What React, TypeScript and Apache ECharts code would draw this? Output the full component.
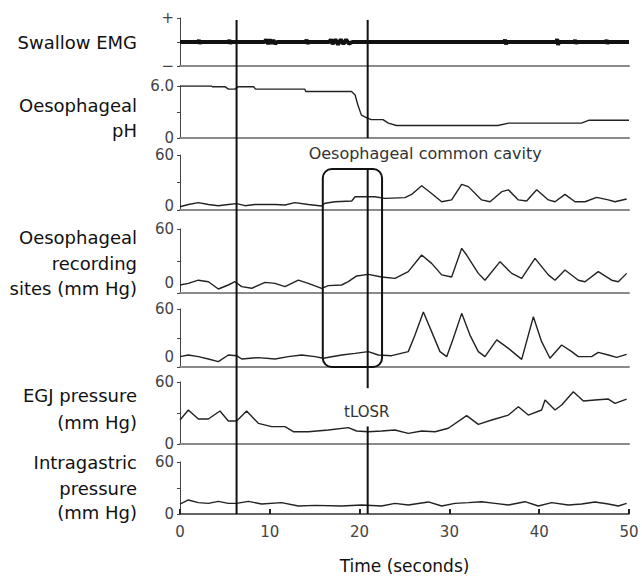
import React, { useEffect, useRef } from "react";
import * as echarts from "echarts";

// ---- data (time in seconds) ----
const swallowEMG: [number, number][] = [
  [0, 0], [2.0, 0], [2.1, 0.08], [2.2, -0.07], [2.3, 0], [5.4, 0], [5.5, 0.08], [5.6, -0.07], [5.7, 0],
  [9.4, 0], [9.6, 0.1], [9.8, -0.08], [10.0, 0.1], [10.2, -0.07], [10.4, 0.08], [10.6, -0.08], [10.8, 0],
  [14.0, 0], [14.1, 0.1], [14.2, -0.08], [14.3, 0], [16.6, 0], [16.8, 0.1], [17.0, -0.08], [17.3, 0.1],
  [17.6, -0.1], [17.9, 0.1], [18.2, -0.08], [18.5, 0.1], [18.8, -0.07], [19.2, 0], [36.1, 0], [36.2, 0.1],
  [36.3, -0.1], [36.4, 0], [41.9, 0], [42.0, 0.12], [42.1, -0.12], [42.2, 0], [43.9, 0], [44.0, 0.08],
  [44.1, -0.07], [44.2, 0], [47.4, 0], [47.5, 0.08], [47.6, -0.07], [47.7, 0], [50, 0],
];

const oesophagealPH: [number, number][] = [
  [0, 6.0], [3.5, 6.0], [3.6, 5.92], [5.0, 5.92], [5.4, 5.64], [6.1, 5.64], [6.5, 5.92], [8.2, 5.92],
  [8.4, 5.64], [13.9, 5.64], [14.0, 5.36], [19.1, 5.36], [19.5, 4.96], [19.8, 3.84], [20.2, 2.64],
  [20.8, 2.32], [21.3, 2.12], [22.6, 2.12], [23.2, 1.72], [24.1, 1.44], [35.4, 1.44], [36.6, 1.72],
  [44.7, 1.72], [45.5, 2.04], [50, 2.04],
];

const siteUpper: [number, number][] = [
  [0, 3.6], [0.93, 6], [2.04, 8], [3.16, 6], [4.27, 4.7], [5.38, 6], [6.31, 7], [7.24, 4.7], [8.35, 6],
  [10.58, 6], [11.69, 5.5], [12.8, 8], [14.29, 6], [15.77, 4.4], [16.15, 7.3], [17.26, 9], [19.12, 9.8],
  [19.5, 14.5], [21.7, 14.5], [22.8, 12.7], [25.05, 13.5], [25.79, 17], [26.91, 26.5], [28.02, 18],
  [29.14, 9], [30.25, 11], [31.37, 28], [32.11, 25.5], [33.59, 11], [34.52, 9], [35.83, 20], [36.57, 22],
  [37.68, 11], [38.6, 9.8], [39.72, 22], [41.02, 11], [41.76, 9], [42.87, 17], [43.99, 9], [45.1, 9],
  [46.4, 13.8], [47.7, 11], [48.44, 9], [49.74, 12],
];

const siteMiddle: [number, number][] = [
  [0, 7.5], [0.93, 9], [2.04, 12], [3.16, 10.6], [4.27, 3.75], [5.38, 7.5], [6.12, 10.6], [6.87, 6],
  [7.98, 4.4], [9.47, 10], [10.58, 9], [11.69, 6], [13.18, 12], [14.29, 9], [15.77, 4.4], [16.52, 6.9],
  [18.0, 7.5], [18.74, 10.6], [19.67, 16], [20.97, 17.5], [22.45, 15], [23.94, 13.75], [25.42, 20],
  [26.91, 35.6], [28.02, 27.8], [29.14, 17], [30.25, 15], [31.37, 41.9], [31.92, 35.6], [33.22, 18.4],
  [33.96, 12], [35.64, 29.4], [36.94, 18.4], [38.05, 13.75], [39.53, 32.5], [41.02, 17], [41.76, 12],
  [42.87, 21.6], [44.36, 12], [45.1, 10.6], [46.58, 20], [48.07, 12], [48.81, 10.6], [49.74, 18.4],
];

const siteLower: [number, number][] = [
  [0, 10.7], [0.93, 12.4], [2.04, 10.7], [3.16, 8.3], [4.27, 5.5], [5.38, 12.4], [6.31, 11.7], [6.87, 8.3],
  [8.72, 9.7], [10.58, 8.3], [12.06, 10.7], [13.55, 12.4], [15.03, 10.7], [15.96, 9], [18.0, 12.4],
  [19.49, 14.1], [20.97, 15.9], [22.08, 12.4], [23.57, 11.7], [25.42, 15.9], [26.17, 33], [27.1, 57],
  [28.02, 36.6], [28.95, 15.9], [29.7, 10.7], [30.44, 29.7], [31.37, 55.5], [32.29, 33], [33.22, 15.9],
  [33.96, 10.7], [35.27, 28], [36.57, 19.3], [38.05, 7.9], [39.35, 52], [40.27, 26.2], [41.2, 9],
  [42.5, 22.8], [43.62, 15.9], [44.36, 10.7], [45.84, 10.7], [46.58, 15.2], [47.7, 12.4], [48.62, 10],
  [49.74, 13.1],
];

const egjPressure: [number, number][] = [
  [0, 23.2], [0.93, 32.9], [2.04, 24.2], [3.16, 24.2], [4.45, 31.9], [5.38, 22.3], [6.31, 22.3],
  [7.42, 31.9], [8.72, 20], [10.21, 16.8], [11.69, 16.8], [12.62, 11.9], [14.29, 11.9], [16.52, 13.5],
  [18.74, 15.8], [19.67, 12.6], [20.97, 11.9], [22.45, 12.6], [23.94, 13.5], [25.42, 10.3], [26.91, 12.6],
  [28.4, 11.9], [29.88, 15.2], [31.92, 27.4], [33.22, 19], [34.71, 23.2], [36.57, 28], [37.68, 36.1],
  [38.79, 28], [40.27, 32.9], [40.65, 42.6], [41.76, 32.9], [42.5, 37.7], [43.8, 50.6], [44.92, 41.6],
  [46.21, 42.6], [47.7, 43.5], [48.44, 39.4], [49.74, 43.5],
];

const intragastric: [number, number][] = [
  [0, 11.5], [0.93, 16.2], [2.04, 13.1], [3.16, 12.3], [4.27, 14.6], [5.38, 12.3], [6.31, 12.3],
  [7.61, 14.6], [9.09, 11.5], [11.32, 13.1], [13.18, 9.2], [15.03, 10], [18.0, 9.2], [20.23, 10.4],
  [22.45, 9.2], [23.94, 12.3], [25.42, 10.4], [27.66, 13.9], [29.14, 9.2], [30.62, 12.3], [32.11, 13.1],
  [33.59, 14.2], [35.08, 12.3], [36.57, 10.4], [38.42, 14.2], [39.9, 9.2], [41.39, 13.1], [43.24, 10.4],
  [44.73, 11.5], [46.21, 13.9], [47.7, 11.5], [48.81, 9.2], [49.74, 12.3],
];

const timeTicks = [0, 10, 20, 30, 40, 50];
const eventTimes = [6.3, 20.9];
const cavityWindow = { start: 15.9, end: 22.5, topPressure: 44.7, bottomPressure: 0 };

const panelLabels: { lines: string[]; ys: number[] }[] = [
  { lines: ["Swallow EMG"], ys: [42] },
  { lines: ["Oesophageal", "pH"], ys: [105, 130] },
  { lines: ["Oesophageal", "recording", "sites (mm Hg)"], ys: [237, 263, 288] },
  { lines: ["EGJ pressure", "(mm Hg)"], ys: [395, 422] },
  { lines: ["Intragastric", "pressure", "(mm Hg)"], ys: [462, 488, 512] },
];

const FONT = "DejaVu Sans";

export default function App() {
  const ref = useRef<HTMLDivElement>(null);
  useEffect(() => {
    document.body.style.margin = "0";
    if (!ref.current) return;
    const chart = echarts.init(ref.current, undefined, { renderer: "svg" });

    // panel layout: [top, bottom] in px
    const panels: [number, number][] = [
      [18, 66], [86, 138], [155, 210], [229, 293], [309, 367], [382, 444], [462, 514],
    ];
    // lift of the "0" label above the baseline per panel (px)
    const zeroLift = [0, 0, 4, 10, 10, 0, 0];
    const grids = panels.map(([t, b]) => ({ left: 180, right: 13, top: t, height: b - t }));

    const xAxes = panels.map((_, i) => {
      const last = i === panels.length - 1;
      return {
        type: "value",
        gridIndex: i,
        min: 0,
        max: 50,
        interval: 10,
        axisLine: { show: true, onZero: false, lineStyle: { color: last ? "#333" : "#8a8a8a", width: last ? 1.5 : 2 } },
        axisTick: { show: last, inside: true, length: 5, lineStyle: { color: "#222", width: 2 } },
        axisLabel: {
          show: last,
          color: "#444",
          fontFamily: FONT,
          fontSize: 15,
          margin: 10,
          formatter: (v: number) => (timeTicks.includes(v) ? String(v) : ""),
        },
        splitLine: { show: false },
        name: last ? "Time (seconds)" : "",
        nameLocation: "middle",
        nameGap: 43,
        nameTextStyle: { color: "#111", fontFamily: FONT, fontSize: 17 },
      };
    });

    const baseY = {
      type: "value",
      axisLine: { show: true, lineStyle: { color: "#444", width: 1 } },
      axisTick: { show: true, length: 3, lineStyle: { color: "#444" } },
      splitLine: { show: false },
    };
    const yLabel = (i: number, fmt: (v: number) => string) => ({
      color: "#444",
      fontFamily: FONT,
      fontSize: 15,
      margin: 6,
      formatter: fmt,
      rich: {
        lo: { color: "#444", fontFamily: FONT, fontSize: 15, padding: [0, 0, zeroLift[i] * 2, 0] },
      },
    });
    const pressureFmt = (v: number) => (v === 30 ? "" : v === 0 ? "{lo|0}" : String(v));
    const yAxes = [
      { ...baseY, gridIndex: 0, min: -1, max: 1, interval: 1, axisLabel: yLabel(0, (v) => (v === 1 ? "+" : v === -1 ? "\u2212" : "")) },
      { ...baseY, gridIndex: 1, min: 0, max: 6, interval: 3, axisLabel: yLabel(1, (v) => (v === 6 ? "6.0" : v === 0 ? "0" : "")) },
      { ...baseY, gridIndex: 2, min: 0, max: 60, interval: 30, axisLabel: yLabel(2, pressureFmt) },
      { ...baseY, gridIndex: 3, min: 0, max: 60, interval: 30, axisLabel: yLabel(3, pressureFmt) },
      { ...baseY, gridIndex: 4, min: 0, max: 60, interval: 30, axisLabel: yLabel(4, pressureFmt) },
      { ...baseY, gridIndex: 5, min: 0, max: 60, interval: 30, axisLabel: yLabel(5, pressureFmt) },
      { ...baseY, gridIndex: 6, min: 0, max: 60, interval: 30, axisLabel: yLabel(6, pressureFmt) },
    ];

    const traces = [swallowEMG, oesophagealPH, siteUpper, siteMiddle, siteLower, egjPressure, intragastric];
    const series = traces.map((d, i) => ({
      type: "line",
      xAxisIndex: i,
      yAxisIndex: i,
      data: d,
      showSymbol: false,
      symbol: "none",
      lineStyle: { color: i === 0 ? "#111" : "#222", width: i === 0 ? 4 : 1.4 },
      silent: true,
      z: 3,
    }));

    chart.setOption({
      animation: false,
      backgroundColor: "#fff",
      grid: grids,
      xAxis: xAxes,
      yAxis: yAxes,
      series,
    });

    // overlay annotations positioned via the chart's own scales
    const px = (t: number) => chart.convertToPixel({ xAxisIndex: 6 }, t) as number;
    const py = (axis: number, v: number) => chart.convertToPixel({ yAxisIndex: axis }, v) as number;

    const top = py(0, 0.92);
    const bottom = py(6, 0);
    const rx1 = px(cavityWindow.start);
    const rx2 = px(cavityWindow.end);
    const ry1 = py(2, cavityWindow.topPressure);
    const ry2 = py(4, cavityWindow.bottomPressure);

    const elements: any[] = [];
    // event line 1: continuous
    // event line 2: interrupted where the annotation texts sit
    const segmentsFor = (idx: number): [number, number][] =>
      idx === 0
        ? [[top, bottom]]
        : [[top, py(1, 0)], [ry1, py(5, 54)], [py(5, 17), bottom]];
    eventTimes.forEach((t, idx) => {
      const x = px(t);
      segmentsFor(idx).forEach(([y1, y2]) => {
        elements.push({
          type: "line",
          shape: { x1: x, y1, x2: x, y2 },
          style: { stroke: "#111", lineWidth: 2 },
          z: 10,
        });
      });
    });
    elements.push({
      type: "rect",
      shape: { x: rx1, y: ry1, width: rx2 - rx1, height: ry2 - ry1, r: 9 },
      style: { fill: "none", stroke: "#111", lineWidth: 2 },
      z: 10,
    });
    elements.push({
      type: "text",
      x: px(27.3),
      y: py(2, 62),
      style: {
        text: "Oesophageal common cavity",
        font: `16px "${FONT}"`,
        fill: "#333",
        align: "center",
        verticalAlign: "middle",
      },
      z: 11,
    });
    elements.push({
      type: "text",
      x: px(20.8),
      y: py(5, 31),
      style: {
        text: "tLOSR",
        font: `15px "${FONT}"`,
        fill: "#333",
        align: "center",
        verticalAlign: "middle",
      },
      z: 11,
    });
    panelLabels.forEach((p) => {
      p.lines.forEach((line, k) => {
        elements.push({
          type: "text",
          x: 137,
          y: p.ys[k],
          style: {
            text: line,
            font: `18px "${FONT}"`,
            fill: "#111",
            align: "right",
            verticalAlign: "middle",
          },
          z: 11,
        });
      });
    });

    chart.setOption({ graphic: { elements } });

    return () => chart.dispose();
  }, []);

  return <div ref={ref} style={{ width: 642, height: 579 }} />;
}
